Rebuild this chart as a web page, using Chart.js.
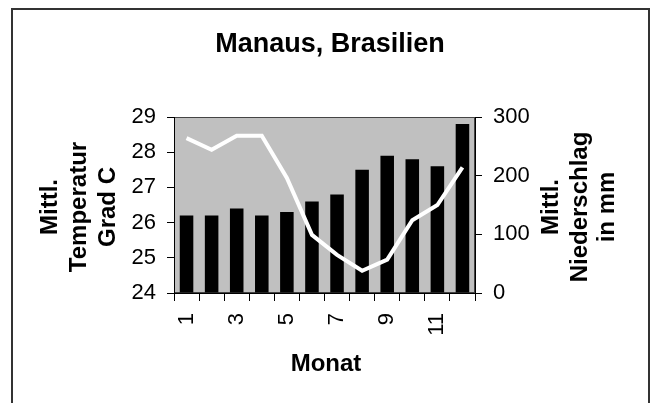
<!DOCTYPE html>
<html>
<head>
<meta charset="utf-8">
<script src="https://cdn.jsdelivr.net/npm/chart.js@4/dist/chart.umd.min.js"></script>
<style>
html,body{margin:0;padding:0;background:#fff;}
#wrap{width:650px;height:403px;position:relative;}
</style>
</head>
<body>
<div id="wrap"><canvas id="c" width="650" height="403"></canvas></div>
<script>
const chartTitle = 'Manaus, Brasilien';
const months = ['1','2','3','4','5','6','7','8','9','10','11','12'];
const temperature = [26.2, 26.2, 26.4, 26.2, 26.3, 26.6, 26.8, 27.5, 27.9, 27.8, 27.6, 28.8];
const precipitation = [264, 244, 268, 268, 196, 99, 65, 38, 57, 124, 150, 214];
const leftTitle = ['Mittl.', 'Temperatur', 'Grad C'];
const rightTitle = ['Mittl.', 'Niederschlag', 'in mm'];
const xTitle = 'Monat';

const FONT = '"Liberation Sans", Arial, sans-serif';

const decor = {
  id: 'decor',
  beforeDraw(chart) {
    const ctx = chart.ctx, a = chart.chartArea;
    ctx.save();
    ctx.fillStyle = '#fff';
    ctx.fillRect(0, 0, chart.width, chart.height);
    // outer frame
    ctx.strokeStyle = '#333';
    ctx.lineWidth = 2;
    ctx.beginPath();
    ctx.moveTo(12, 420); ctx.lineTo(12, 9); ctx.lineTo(649, 9); ctx.lineTo(649, 420);
    ctx.stroke();
    // plot area
    ctx.fillStyle = '#c0c0c0';
    ctx.fillRect(a.left, a.top, a.right - a.left, a.bottom - a.top);
    ctx.strokeStyle = '#444';
    ctx.lineWidth = 1;
    ctx.strokeRect(a.left + 0.5, a.top + 0.5, a.right - a.left - 1, a.bottom - a.top - 1);
    ctx.restore();
  },
  afterDraw(chart) {
    const ctx = chart.ctx, a = chart.chartArea;
    ctx.save();
    ctx.fillStyle = '#000';
    ctx.textAlign = 'center';
    ctx.textBaseline = 'alphabetic';
    ctx.font = 'bold 27px ' + FONT;
    ctx.fillText(chartTitle, 330, 52);
    ctx.font = 'bold 24px ' + FONT;
    ctx.fillText(xTitle, 326, 371);
    const cy = (a.top + a.bottom) / 2 + 2;
    const drawRot = (lines, baselines) => {
      lines.forEach((t, i) => {
        ctx.save();
        ctx.translate(baselines[i], cy);
        ctx.rotate(-Math.PI / 2);
        ctx.fillText(t, 0, 0);
        ctx.restore();
      });
    };
    drawRot(leftTitle, [57, 86, 115]);
    drawRot(rightTitle, [558, 587, 614]);
    ctx.restore();
  }
};

new Chart(document.getElementById('c'), {
  data: {
    labels: months,
    datasets: [
      {
        type: 'line',
        label: 'Niederschlag',
        data: precipitation,
        yAxisID: 'y1',
        borderColor: '#ffffff',
        borderWidth: 4,
        pointRadius: 0,
        tension: 0,
        order: 0
      },
      {
        type: 'bar',
        label: 'Temperatur',
        data: temperature,
        yAxisID: 'y',
        base: 24,
        backgroundColor: '#000000',
        borderWidth: 0,
        categoryPercentage: 1,
        barPercentage: 0.54,
        order: 1
      }
    ]
  },
  options: {
    responsive: false,
    animation: false,
    devicePixelRatio: 1,
    layout: { padding: { top: 117, left: 0, right: 0, bottom: 0 } },
    plugins: { legend: { display: false }, title: { display: false }, tooltip: { enabled: false } },
    scales: {
      x: {
        type: 'category',
        offset: true,
        grid: { display: true, drawOnChartArea: false, offset: true, color: '#000', tickLength: 8, tickWidth: 1 },
        border: { display: true, color: '#000', width: 1 },
        ticks: {
          color: '#000', font: { family: FONT, size: 22 }, padding: 12,
          autoSkip: false, minRotation: 90, maxRotation: 90,
          callback: (v, i) => (i % 2 === 0 ? months[i] : '')
        },
        afterFit: s => { s.height = 110; }
      },
      y: {
        type: 'linear', position: 'left', min: 24, max: 29,
        grid: { display: true, drawOnChartArea: false, color: '#000', tickLength: 7 },
        border: { display: true, color: '#000', width: 1 },
        ticks: { stepSize: 1, color: '#000', font: { family: FONT, size: 22 }, padding: 11 },
        afterFit: s => { s.width = 174; }
      },
      y1: {
        type: 'linear', position: 'right', min: 0, max: 300,
        grid: { display: true, drawOnChartArea: false, color: '#000', tickLength: 7 },
        border: { display: true, color: '#000', width: 1 },
        ticks: { stepSize: 100, color: '#000', font: { family: FONT, size: 22 }, padding: 11 },
        afterFit: s => { s.width = 175; }
      }
    }
  },
  plugins: [decor]
});
</script>
</body>
</html>
